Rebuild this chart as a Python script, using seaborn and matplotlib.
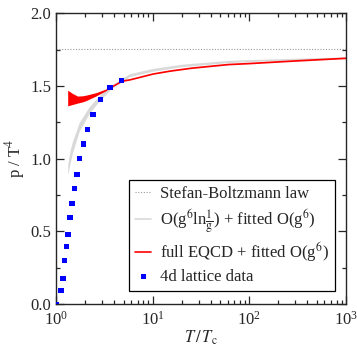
import numpy as np
import matplotlib
matplotlib.use("Agg")
import matplotlib.pyplot as plt
import seaborn as sns
import pandas as pd

# 4d lattice data
lat_T = [1.017, 1.126, 1.18, 1.217, 1.276, 1.328, 1.393, 1.46, 1.542, 1.644,
         1.765, 1.909, 2.118, 2.417, 2.88, 3.61, 4.8]
lat_p = [0.0, 0.091, 0.177, 0.298, 0.394, 0.479, 0.593, 0.692, 0.795, 0.891,
         1.001, 1.10, 1.20, 1.304, 1.407, 1.487, 1.537]

# full EQCD + fitted O(g^6) band
eqcd_T = [1.32, 1.48, 1.67, 1.88, 2.03, 2.58, 3.26, 3.67, 4.8, 5.77, 10, 15, 25,
          60, 100, 300, 1000]
eqcd_hi = [1.471, 1.448, 1.430, 1.432, 1.436, 1.453, 1.478, 1.499, 1.542, 1.551,
           1.591, 1.611, 1.631, 1.656, 1.663, 1.681, 1.699]
eqcd_lo = [1.363, 1.372, 1.382, 1.390, 1.398, 1.430, 1.466, 1.487, 1.530, 1.539,
           1.579, 1.599, 1.619, 1.644, 1.651, 1.669, 1.687]

# O(g^6 ln 1/g) + fitted O(g^6) band
log_T = [1.32, 1.40, 1.48, 1.74, 2.2, 2.79, 3.67, 5.77, 10, 20, 60, 100, 300, 1000]
log_hi = [0.96, 1.06, 1.12, 1.25, 1.357, 1.433, 1.504, 1.584, 1.620, 1.649, 1.675,
          1.681, 1.690, 1.700]
log_lo = [0.89, 0.97, 1.04, 1.19, 1.31, 1.396, 1.476, 1.564, 1.601, 1.632, 1.660,
          1.667, 1.679, 1.690]

sb_value = 1.7546

sns.set_style("ticks")
plt.rcParams["font.family"] = ["Liberation Serif", "DejaVu Serif"]
plt.rcParams["mathtext.fontset"] = "stix"
plt.rcParams["xtick.direction"] = "in"
plt.rcParams["ytick.direction"] = "in"

fig = plt.figure(figsize=(3.57, 3.46), dpi=100)
ax = fig.add_axes([0.157, 0.121, 0.812, 0.841])

ax.axhline(sb_value, color="#999999", ls=(0, (1, 1.5)), lw=0.8, label="Stefan-Boltzmann law")

ax.fill_between(log_T, log_lo, log_hi, color="#d9d9d9", lw=0)
ax.plot([], [], color="#d9d9d9", lw=1.2, label=r"O(g$^6$ln$\frac{1}{\mathrm{g}}$) + fitted O(g$^6$)")

ax.fill_between(eqcd_T, eqcd_lo, eqcd_hi, color="#ff0000", lw=0)
ax.plot([], [], color="#ff0000", lw=1.2, label=r"full EQCD + fitted O(g$^6$)")

lat = pd.DataFrame({"T": lat_T, "p": lat_p})
sns.scatterplot(data=lat, x="T", y="p", ax=ax, marker="s", color="#0000ff",
                s=14, edgecolor="none", label="4d lattice data", zorder=5)

ax.set_xscale("log")
ax.set_xlim(1, 1000)
ax.set_ylim(0, 2.0)
ax.set_yticks([0, 0.5, 1.0, 1.5, 2.0])
ax.set_yticklabels(["0.0", "0.5", "1.0", "1.5", "2.0"])
ax.set_yticks([0.25, 0.75, 1.25, 1.75], minor=True)
ax.tick_params(which="both", top=True, right=True, labelsize=12, width=0.9)
ax.tick_params(which="major", length=6)
ax.tick_params(which="minor", length=3)
ax.tick_params(axis="x", pad=5)
for s in ax.spines.values():
    s.set_linewidth(1.0)

ax.set_xlabel(r"$T\,/\,T_\mathrm{c}$", fontsize=12, labelpad=0)
ax.set_ylabel(r"p / T$^4$", fontsize=12, labelpad=2)

leg = ax.legend(loc="lower right", bbox_to_anchor=(0.963, 0.045), fontsize=12,
                frameon=True, fancybox=False, edgecolor="black", framealpha=1,
                handlelength=0.95, handletextpad=0.55, borderpad=0.35, labelspacing=0.3,
                borderaxespad=0)
leg.get_frame().set_linewidth(0.9)

fig.savefig("out.png", dpi=100)
